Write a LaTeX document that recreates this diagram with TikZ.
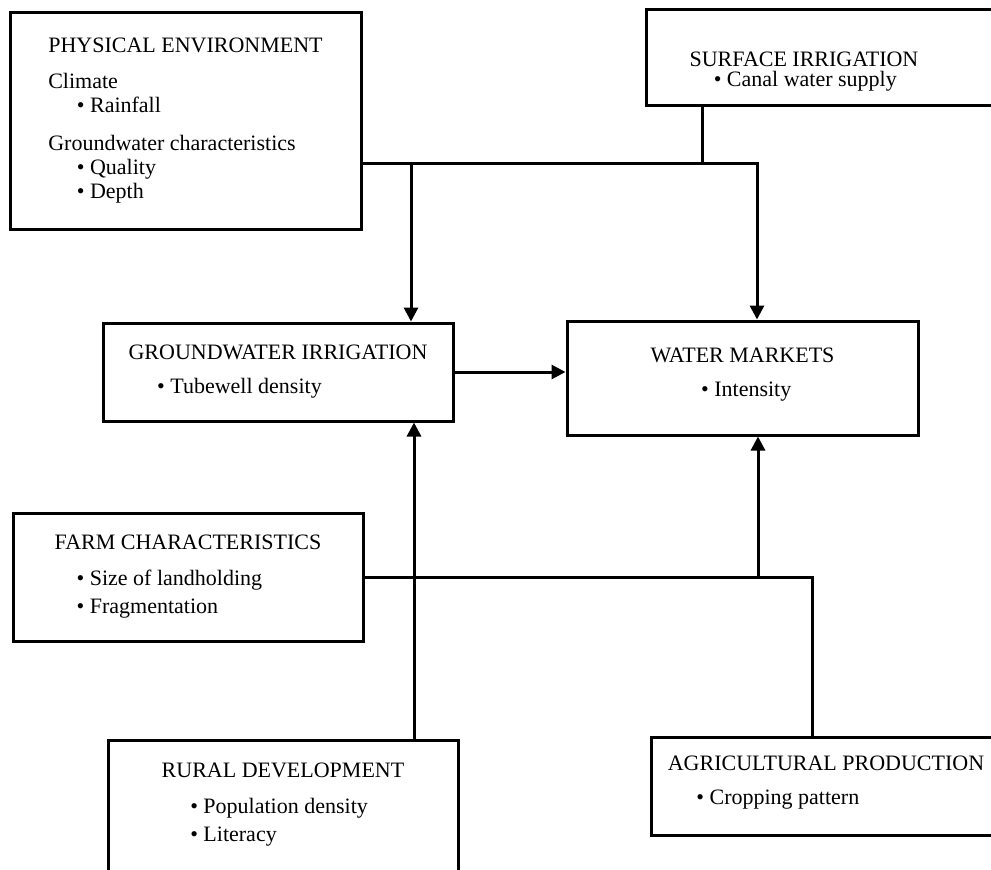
\documentclass[tikz,border=0pt]{standalone}
\usepackage{fontspec}
\setmainfont{Liberation Serif}
\usetikzlibrary{arrows.meta}
\newcommand{\itm}[2][1.3em]{\hspace*{#1}\textbullet\ #2}

\begin{document}
\begin{tikzpicture}[x=0.5pt, y=-0.5pt, line width=1.5pt, >={Triangle[length=7pt,width=7pt]},
    factor/.style={draw, align=left, font=\fontsize{11}{12}\selectfont, inner sep=0pt}]
    \useasboundingbox (0,0) rectangle (991,869);
    \clip (0,0) rectangle (991,869);

    % Physical environment
    \node[factor, minimum width=175.5pt, minimum height=108.5pt] (pe) at (185.5,120.5)
        {PHYSICAL ENVIRONMENT\\[6pt] Climate\\ \itm{Rainfall}\\[7pt] Groundwater characteristics\\ \itm{Quality}\\ \itm{Depth}};

    % Surface irrigation
    \node[factor, minimum width=173pt, minimum height=48pt] (si) at (819,57)
        {\mbox{}\\[10pt] SURFACE IRRIGATION\hspace*{15pt}\mbox{}\\[-2pt] \itm[1.1em]{Canal water supply}};

    % Groundwater irrigation
    \node[factor, minimum width=175pt, minimum height=49pt] (gw) at (278,372)
        {GROUNDWATER IRRIGATION\\[5pt] \itm{Tubewell density}};

    % Water markets
    \node[factor, minimum width=175.5pt, minimum height=57pt] (wm) at (742.5,378)
        {WATER MARKETS\\[5pt] \itm[2.3em]{Intensity}\\[-6pt] \mbox{}};

    % Farm characteristics
    \node[factor, minimum width=175pt, minimum height=64pt] (fc) at (188,577)
        {FARM CHARACTERISTICS\\[6pt] \itm[1em]{Size of landholding}\\[2pt] \itm[1em]{Fragmentation}};

    % Rural development
    \node[factor, minimum width=175pt, minimum height=75pt] (rd) at (283,815)
        {RURAL DEVELOPMENT\\[6pt] \itm{Population density}\\[2pt] \itm{Literacy}\\[1pt] \mbox{}};

    % Agricultural production
    \node[factor, minimum width=175pt, minimum height=49pt] (ap) at (826,786)
        {AGRICULTURAL PRODUCTION\\[5pt] \itm{Cropping pattern}\\[-6pt] \mbox{}};

    % Junctions
    \coordinate (jsi) at (702,163);
    \coordinate (jgw) at (411,163);
    \coordinate (jwm) at (757,163);
    \coordinate (jrd) at (414,577);
    \coordinate (jfc) at (758,577);
    \coordinate (jap) at (812,577);

    % Arrows
    \draw[->] (pe.east |- jwm) -- (jwm) -- (wm.north -| jwm);
    \draw (si.south -| jsi) -- (jsi);
    \draw[->] (jgw) -- (gw.north -| jgw);
    \draw[->] (gw.east) -- (gw.east -| wm.west);
    \draw (fc.east) -- (jap) -- (ap.north -| jap);
    \draw[->] (jfc) -- (wm.south -| jfc);
    \draw[->] (rd.north -| jrd) -- (gw.south -| jrd);
\end{tikzpicture}
\end{document}
